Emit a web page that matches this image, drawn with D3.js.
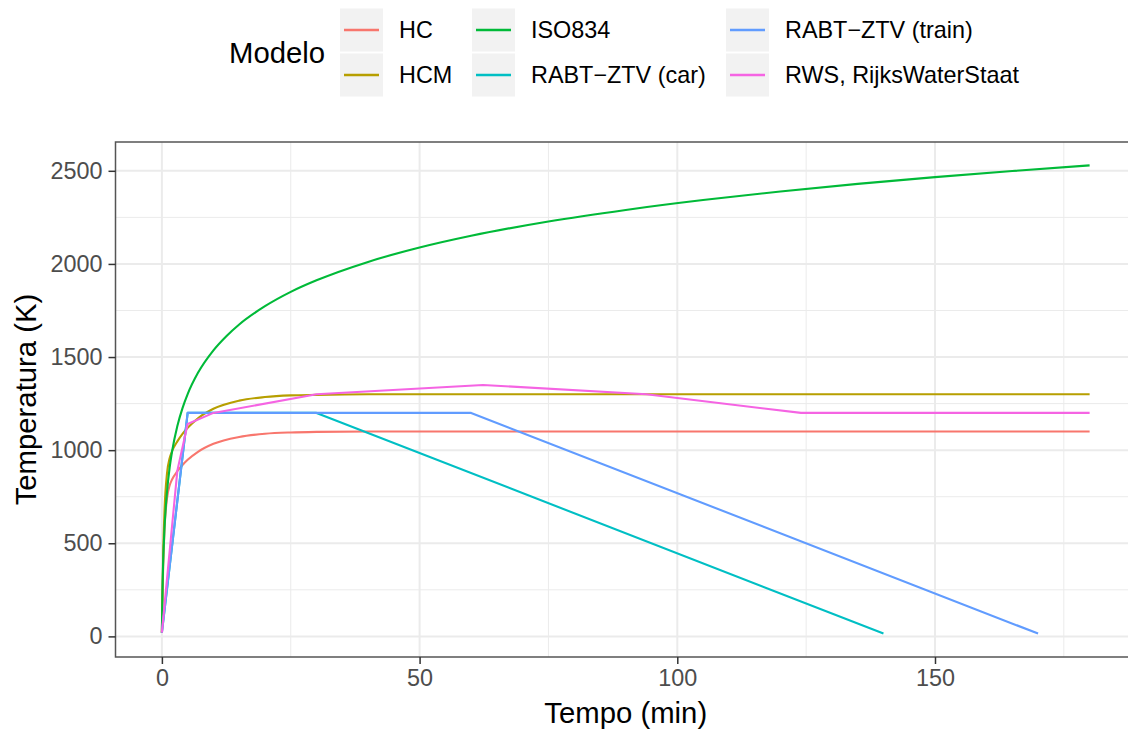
<!DOCTYPE html>
<html>
<head>
<meta charset="utf-8">
<script src="https://cdn.jsdelivr.net/npm/d3@7"></script>
<style>
  body { margin: 0; background: #fff; }
  svg { display: block; overflow: hidden; font-family: "Liberation Sans", Arial, Helvetica, sans-serif; }
</style>
</head>
<body>
<svg id="chart" width="1128" height="732"></svg>
<script>
// Series names (legend order) and colours
const modelos = ["HC", "HCM", "ISO834", "RABT\u2212ZTV (car)", "RABT\u2212ZTV (train)", "RWS, RijksWaterStaat"];
const cores = ["#F8766D", "#B79F00", "#00BA38", "#00BFC4", "#619CFF", "#F564E3"];

// Values (tempo in min, temperatura in K)
const tempoCurva = [0, 0.1, 0.25, 0.5, 1, 1.5, 2, 3, 4, 5, 7, 10, 15, 20, 25, 30, 40, 60, 90, 120, 150, 180];
const tempHC  = [20, 187, 373, 568, 743, 810, 844, 887, 920, 948, 991, 1034, 1071, 1088, 1095, 1098, 1100, 1100, 1100, 1100, 1100, 1100];
const tempHCM = [20, 218, 439, 670, 877, 956, 996, 1047, 1087, 1120, 1171, 1222, 1266, 1285, 1294, 1297, 1300, 1300, 1300, 1300, 1300, 1300];

const tempoISO = [0, 0.1, 0.25, 0.5, 1, 1.5, 2, 3, 4, 5, 7, 10, 12.5, 15, 20, 25, 30, 40, 50, 60, 75, 90, 105, 120, 135, 150, 165, 180];
const tempISO  = [20, 223, 399, 575, 778, 905, 997, 1130, 1226, 1301, 1415, 1536, 1612, 1675, 1773, 1850, 1912, 2011, 2088, 2151, 2228, 2290, 2343, 2389, 2430, 2466, 2499, 2529];

const tempoCar = [0, 5, 30, 140];
const tempCar  = [20, 1200, 1200, 15];

const tempoTrain = [0, 5, 60, 170];
const tempTrain  = [20, 1200, 1200, 15];

const tempoRWS = [0, 3, 5, 10, 30, 62.3, 94, 124, 180];
const tempRWS  = [20, 890, 1140, 1200, 1300, 1350, 1300, 1200, 1200];

const xTicks = [0, 50, 100, 150];
const xMinor = [25, 75, 125, 175];
const yTicks = [0, 500, 1000, 1500, 2000, 2500];
const yMinor = [250, 750, 1250, 1750, 2250];

const series = [
  { nome: modelos[0], t: tempoCurva, v: tempHC, suave: true },
  { nome: modelos[1], t: tempoCurva, v: tempHCM, suave: true },
  { nome: modelos[2], t: tempoISO, v: tempISO, suave: true },
  { nome: modelos[3], t: tempoCar, v: tempCar, suave: false },
  { nome: modelos[4], t: tempoTrain, v: tempTrain, suave: false },
  { nome: modelos[5], t: tempoRWS, v: tempRWS, suave: false }
];

const svg = d3.select("#chart");
const panel = { left: 115.5, right: 1136, top: 142, bottom: 657 };
const tickFont = 23.4, titleFont = 29.3;

// ggplot-like 5% expansion
const allT = series.flatMap(s => s.t), allV = series.flatMap(s => s.v);
const [t0, t1] = d3.extent(allT), [v0, v1] = d3.extent(allV);
const x = d3.scaleLinear()
  .domain([t0 - 0.05 * (t1 - t0), t1 + 0.05 * (t1 - t0)])
  .range([panel.left, panel.right]);
const y = d3.scaleLinear()
  .domain([v0 - 0.05 * (v1 - v0), v1 + 0.05 * (v1 - v0)])
  .range([panel.bottom, panel.top]);
const color = d3.scaleOrdinal().domain(modelos).range(cores);

// Grid
const grid = svg.append("g");
grid.selectAll(".minor-x").data(xMinor).join("line")
  .attr("x1", d => x(d)).attr("x2", d => x(d))
  .attr("y1", panel.top).attr("y2", panel.bottom)
  .attr("stroke", "#EBEBEB").attr("stroke-width", 1);
grid.selectAll(".minor-y").data(yMinor).join("line")
  .attr("y1", d => y(d)).attr("y2", d => y(d))
  .attr("x1", panel.left).attr("x2", panel.right)
  .attr("stroke", "#EBEBEB").attr("stroke-width", 1);
grid.selectAll(".major-x").data(xTicks).join("line")
  .attr("x1", d => x(d)).attr("x2", d => x(d))
  .attr("y1", panel.top).attr("y2", panel.bottom)
  .attr("stroke", "#EBEBEB").attr("stroke-width", 2);
grid.selectAll(".major-y").data(yTicks).join("line")
  .attr("y1", d => y(d)).attr("y2", d => y(d))
  .attr("x1", panel.left).attr("x2", panel.right)
  .attr("stroke", "#EBEBEB").attr("stroke-width", 2);

// Lines
const line = (curve) => d3.line()
  .x(d => x(d[0])).y(d => y(d[1]))
  .curve(curve);

svg.append("g")
  .selectAll("path")
  .data(series)
  .join("path")
  .attr("fill", "none")
  .attr("stroke", d => color(d.nome))
  .attr("stroke-width", 2.1)
  .attr("stroke-linejoin", "round")
  .attr("d", d => line(d.suave ? d3.curveMonotoneX : d3.curveLinear)(d.t.map((t, i) => [t, d.v[i]])));

// Panel border
svg.append("rect")
  .attr("x", panel.left).attr("y", panel.top)
  .attr("width", panel.right - panel.left).attr("height", panel.bottom - panel.top)
  .attr("fill", "none").attr("stroke", "#555").attr("stroke-width", 1.5);

// Axes
const xAxis = svg.append("g")
  .attr("transform", `translate(0,${panel.bottom})`)
  .call(d3.axisBottom(x).tickValues(xTicks).tickSize(7).tickPadding(5).tickFormat(d3.format("d")));
const yAxis = svg.append("g")
  .attr("transform", `translate(${panel.left},0)`)
  .call(d3.axisLeft(y).tickValues(yTicks).tickSize(7).tickPadding(6).tickFormat(d3.format("d")));

[xAxis, yAxis].forEach(a => {
  a.select(".domain").remove();
  a.selectAll(".tick line").attr("stroke", "#333").attr("stroke-width", 1.5);
  a.selectAll(".tick text")
    .attr("fill", "#4D4D4D")
    .attr("font-size", tickFont)
    .attr("font-family", "Liberation Sans, Arial, sans-serif");
});

// Axis titles
svg.append("text")
  .attr("x", (panel.left + panel.right) / 2).attr("y", 723)
  .attr("text-anchor", "middle")
  .attr("font-size", titleFont)
  .text("Tempo (min)");

svg.append("text")
  .attr("transform", `translate(36,${(panel.top + panel.bottom) / 2}) rotate(-90)`)
  .attr("text-anchor", "middle")
  .attr("font-size", titleFont)
  .text("Temperatura (K)");

// Legend
const legend = svg.append("g");
legend.append("text")
  .attr("x", 229).attr("y", 53)
  .attr("dy", "0.35em")
  .attr("font-size", titleFont)
  .text("Modelo");

const colX = [340, 472, 726];
const rowY = [30, 75];
const keySize = 43;

const item = legend.selectAll(".item")
  .data(modelos)
  .join("g")
  .attr("class", "item")
  .attr("transform", (d, i) => `translate(${colX[Math.floor(i / 2)]},${rowY[i % 2]})`);

item.append("rect")
  .attr("x", 0).attr("y", -keySize / 2)
  .attr("width", keySize).attr("height", keySize)
  .attr("fill", "#F2F2F2");
item.append("line")
  .attr("x1", 4).attr("x2", keySize - 4)
  .attr("stroke", d => color(d))
  .attr("stroke-width", 2.5);
item.append("text")
  .attr("x", keySize + 16)
  .attr("dy", "0.35em")
  .attr("font-size", tickFont)
  .text(d => d);
</script>
</body>
</html>
